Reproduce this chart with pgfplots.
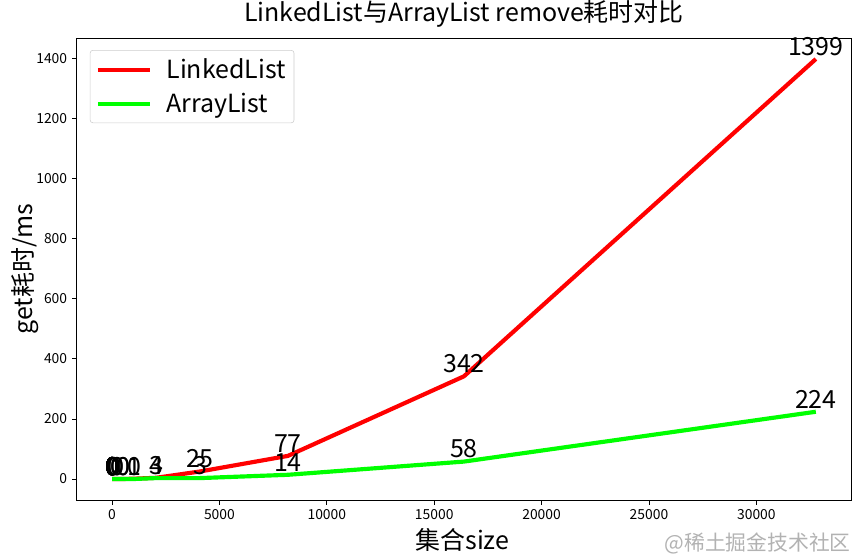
\documentclass[border=0pt]{standalone}
\usepackage{pgfplots}
\pgfplotsset{compat=1.18}
\usepackage{fontspec}
\setmainfont{Noto Sans CJK SC}
\definecolor{lime}{RGB}{0,255,0}
\begin{document}
\begin{tikzpicture}
\begin{axis}[
  scale only axis, width=558pt, height=333pt,
  xmin=-1637, xmax=34406, ymin=-70, ymax=1469,
  xtick={0,5000,...,30000}, ytick={0,200,...,1400},
  scaled ticks=false,
  /pgf/number format/1000 sep={},
  /pgf/number format/assume math mode=true,
  tick align=outside, xtick pos=bottom, ytick pos=left,
  major tick length=3.5pt,
  tick style={black, line width=0.6pt},
  axis line style={line width=0.6pt},
  ticklabel style={font=\fontsize{10}{12}\selectfont},
  title={LinkedList与ArrayList remove耗时对比},
  title style={at={(axis description cs:0.5,1.035)}, anchor=center, font=\fontsize{18}{21}\selectfont},
  xlabel={集合size},
  ylabel={get耗时/ms},
  xlabel style={at={(axis description cs:0.498,-0.087)}, anchor=center, font=\fontsize{18}{21}\selectfont},
  ylabel style={at={(axis description cs:-0.067,0.5)}, anchor=center, font=\fontsize{18}{21}\selectfont},
  nodes near coords,
  every node near coord/.style={font=\fontsize{18}{21}\selectfont, anchor=south, inner sep=0pt, yshift=1pt, text=black},
  legend style={at={(axis description cs:0.0168,0.974)}, anchor=north west,
    rounded corners=2pt, draw=black!20, inner sep=4pt, row sep=5pt, column sep=8pt,
    font=\fontsize{18}{21}\selectfont},
  legend cell align=left,
  legend image code/.code={\draw[#1] (0pt,0pt) -- (38pt,0pt);},
]
\addplot[red, line width=3pt, no markers] coordinates {
  (1,0) (2,0) (4,0) (8,0) (16,0) (32,0) (64,0) (128,0) (256,0) (512,0)
  (1024,1) (2048,4) (4096,25) (8192,77) (16384,342) (32768,1399)
};
\addlegendentry{LinkedList}
\addplot[lime, line width=3pt, no markers] coordinates {
  (1,0) (2,0) (4,0) (8,0) (16,0) (32,0) (64,0) (128,0) (256,0) (512,0)
  (1024,0) (2048,3) (4096,3) (8192,14) (16384,58) (32768,224)
};
\addlegendentry{ArrayList}
\coordinate (bl) at (rel axis cs:0,0);
\coordinate (tr) at (rel axis cs:1,1);
\end{axis}
\node[anchor=east, text=black!30, font=\fontsize{15}{18}\selectfont, inner sep=0pt]
  at ([yshift=-31pt]tr |- bl) {@稀土掘金技术社区};
\pgfresetboundingbox
\path[use as bounding box] ([shift={(-55.4pt,-43.2pt)}]bl) rectangle ([shift={(7.2pt,27.4pt)}]tr);
\end{tikzpicture}
\end{document}
